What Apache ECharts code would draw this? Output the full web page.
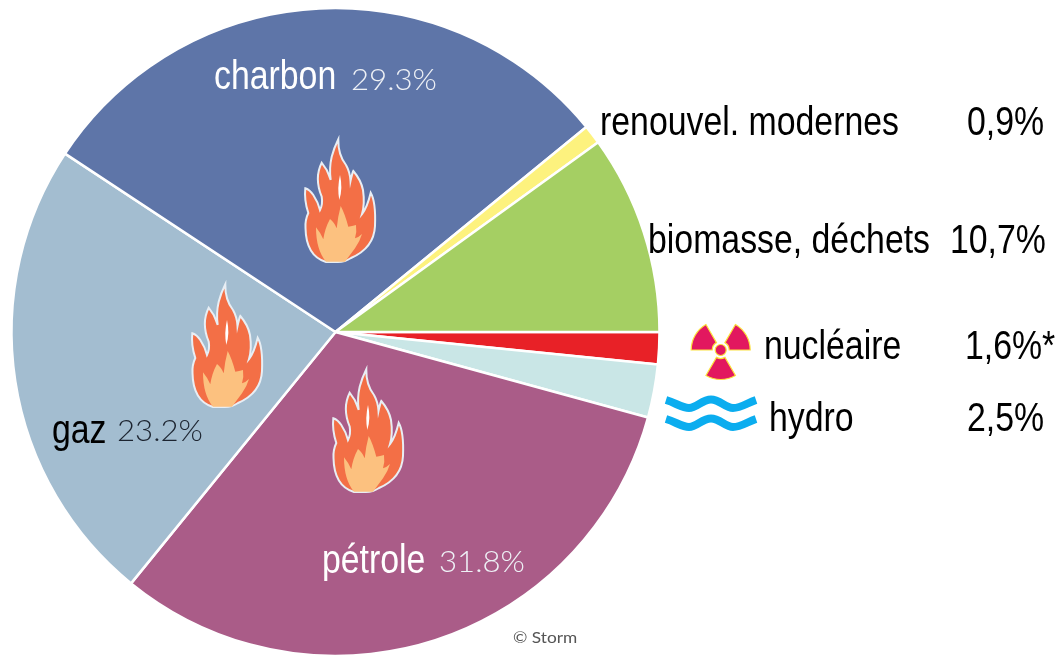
<!DOCTYPE html>
<html><head><meta charset="utf-8">
<style>html,body{margin:0;padding:0;background:#fff}#c{width:1060px;height:657px}</style>
<script src="https://cdn.jsdelivr.net/npm/echarts@6/dist/echarts.min.js"></script>
</head><body><div id="c"></div>
<script>
const categories = ['nucléaire','hydro','pétrole','gaz','charbon','renouvel. modernes','biomasse, déchets'];
const shares = [1.6,2.65,31.6,23.4,29.8,0.95,9.95];
const shareLabels = ['1,6%*','2,5%','31.8%','23.2%','29.3%','0,9%','10,7%'];
const colors = ['#e82127','#c9e6e6','#aa5c88','#a3bdd0','#5e75a8','#fdf27e','#a5cf63'];
const nameX = [764,769,322,52,214,600,648];
const nameY = [348,420,562,432,78,124,242];
const shareX = [965,967,439,117,351,967,950];
const shareY = [348,420,562,431,80,124,242];
const nameColor = ['#000','#000','#fff','#000','#fff','#000','#000'];
const shareStyle = ['big','big','thin','thinDark','thin','big','big'];
const credit = '© Storm';
const flameOffsets = [[0,0],[-113,145],[28,230]];
const waveOffsets = [[0,0],[0,19]];
const FLAME_OUT = 'M338.3,139.3 Q338,155 346,165 Q350,172 350.5,181 Q352,174 353.3,171 Q361,180 363,190 Q365,204 362,214 Q367,208 370.7,192.7 Q376,202 375,226 Q374,248 351,258 Q345,262 338,262 L326,262 Q306,256 305.5,228 Q305,220 308.3,213 Q304,200 305.3,188.3 Q310,190 313.3,195 Q318,202 320,210 Q323,204 321.7,196.7 Q314,178 321.7,162.7 Q324,166 326.7,170 Q329,175 330.7,180 Q329,168 331.7,156.7 Q334,148 338.3,139.3 Z';
const FLAME_IN = 'M326,261.7 Q316,250 316,227.3 Q320,232 323.3,239.3 Q325,228 330,219 Q334,222 336.7,228.3 Q338,216 340.7,206 Q345,214 348.3,226.7 Q352,226 356,225 Q357,232 355,238.3 Q359,237 362,234 Q360,241 355,248.3 Q350,255 345,261.7 Z';
const FLAME_SLIT = 'M340,175 Q337,188 339.3,200 Q343,188 340,175 Z';
const WAVE = 'M666,400 C676,403 682,408 689,408 C697,408 702,399.5 711,399.5 C720,399.5 725,408 733,408 C741,408 747,403 756,400';

const shareFonts = {
  big:{font:'"Liberation Sans"',size:41,scale:0.825,fill:'#000'},
  thin:{font:'Lato',size:30,scale:1.04,fill:'#eef1f6',weight:300},
  thinDark:{font:'Lato',size:30,scale:1.04,fill:'#1c2430',weight:300}
};
const Z = 30;
const graphics = [];
[[Math.PI,Math.PI*4/3],[Math.PI*5/3,Math.PI*2],[Math.PI/3,Math.PI*2/3]].forEach(a=>{
  graphics.push({type:'sector',silent:true,z:Z,shape:{cx:720.7,cy:350,r0:8.5,r:29.5,startAngle:a[0],endAngle:a[1]},
    style:{fill:'#e2185f',stroke:'#fbe23c',lineWidth:1.2}});
});
graphics.push({type:'circle',silent:true,z:Z,shape:{cx:720.7,cy:350,r:5.5},style:{fill:'#e2185f',stroke:'#fbe23c',lineWidth:1.2}});
categories.forEach((c,i)=>{
  graphics.push({type:'text',silent:true,z:Z,x:nameX[i],y:nameY[i],scaleX:0.825,
    style:{text:c,fontFamily:'"Liberation Sans"',fontSize:41,fill:nameColor[i],align:'left',verticalAlign:'middle'}});
  const f = shareFonts[shareStyle[i]];
  graphics.push({type:'text',silent:true,z:Z,x:shareX[i],y:shareY[i],scaleX:f.scale,
    style:{text:shareLabels[i],fontFamily:f.font,fontWeight:f.weight||'normal',fontSize:f.size,fill:f.fill,align:'left',verticalAlign:'middle'}});
});
graphics.push({type:'text',silent:true,z:Z,x:513,y:630,scaleX:1.08,style:{text:credit,fontFamily:'Lato',fontSize:16,fill:'#555'}});

const chart = echarts.init(document.getElementById('c'),null,{renderer:'canvas'});
chart.setOption({
  animation:false,
  backgroundColor:'#fff',
  series:[{
    type:'pie',silent:true,z:1,
    center:[335.5,332],radius:[0,324],
    startAngle:0,clockwise:true,
    avoidLabelOverlap:false,
    itemStyle:{borderColor:'#fff',borderWidth:2.5},
    label:{show:false},
    labelLine:{show:false},
    data:categories.map((c,i)=>({name:c,value:shares[i],itemStyle:{color:colors[i]}}))
  },{
    type:'custom',coordinateSystem:'none',silent:true,clip:false,z:10,
    data:flameOffsets,
    renderItem:(params,api)=>({type:'group',x:api.value(0),y:api.value(1),children:[
      {type:'path',shape:{pathData:FLAME_OUT},style:{fill:'#f36f46',stroke:'#e8eef4',lineWidth:2}},
      {type:'path',shape:{pathData:FLAME_IN},style:{fill:'#fcc17f'}},
      {type:'path',shape:{pathData:FLAME_SLIT},style:{fill:'#ffffff'}}
    ]})
  },{
    type:'custom',coordinateSystem:'none',silent:true,clip:false,z:10,
    data:waveOffsets,
    renderItem:(params,api)=>({type:'path',x:api.value(0),y:api.value(1),
      shape:{pathData:WAVE},style:{fill:'none',stroke:'#0badef',lineWidth:8}})
  }],
  graphic:graphics
});
</script></body></html>
